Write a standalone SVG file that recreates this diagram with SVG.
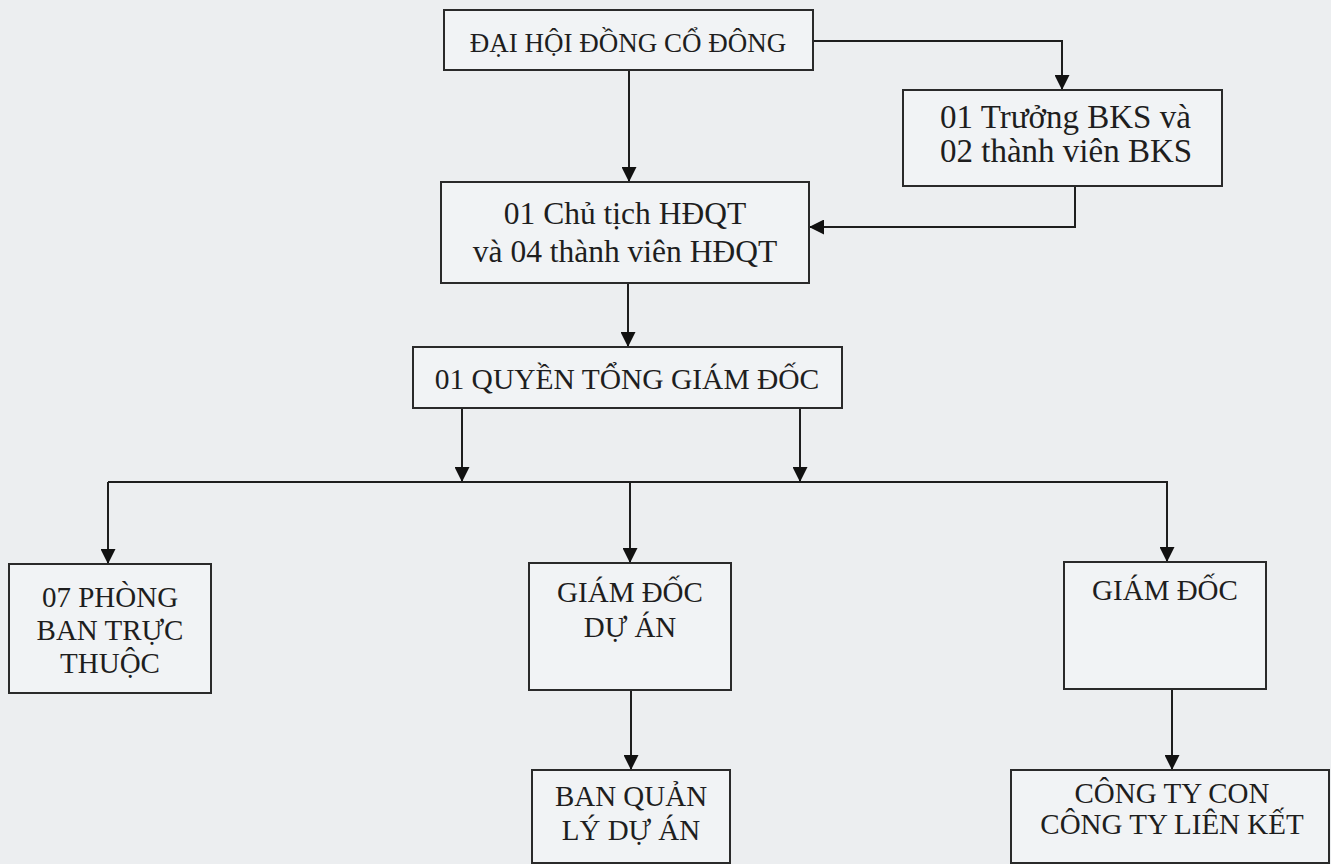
<svg xmlns="http://www.w3.org/2000/svg" width="1331" height="864" viewBox="0 0 1331 864">
<style>
.box{fill:#f1f3f5;stroke:#2a2a2a;stroke-width:2}
.t{font-family:"Liberation Serif","Times New Roman",serif;font-size:29px;fill:#1e1e1e;text-anchor:middle}
.s{text-anchor:start}
.l{fill:none;stroke:#1e1e1e;stroke-width:2}
</style>
<defs>
<marker id="ah" viewBox="0 0 10 10" refX="10" refY="5" markerWidth="15" markerHeight="15" markerUnits="userSpaceOnUse" orient="auto">
<path d="M0,0 L10,5 L0,10 z" fill="#111"/>
</marker>
</defs>
<rect width="1331" height="864" fill="#eceef0"/>
<g id="connectors">
<path class="l" d="M813,41 H1062 V90" marker-end="url(#ah)"/>
<path class="l" d="M629,70 V182" marker-end="url(#ah)"/>
<path class="l" d="M1075,186 V227 H809" marker-end="url(#ah)"/>
<path class="l" d="M628,283 V347" marker-end="url(#ah)"/>
<path class="l" d="M462,408 V482" marker-end="url(#ah)"/>
<path class="l" d="M800,408 V482" marker-end="url(#ah)"/>
<path class="l" d="M108,482 H1168"/>
<path class="l" d="M108,482 V564" marker-end="url(#ah)"/>
<path class="l" d="M630,482 V563" marker-end="url(#ah)"/>
<path class="l" d="M1167,482 V562" marker-end="url(#ah)"/>
<path class="l" d="M631,690 V770" marker-end="url(#ah)"/>
<path class="l" d="M1172,689 V770" marker-end="url(#ah)"/>
</g>
<g id="n-dhdcd">
<rect class="box" x="444" y="10" width="369" height="60"/>
<text class="t" x="628" y="52" style="font-size:27px">ĐẠI HỘI ĐỒNG CỔ ĐÔNG</text>
</g>
<g id="n-bks">
<rect class="box" x="903" y="90" width="319" height="96"/>
<text class="t s" x="940" y="128" style="font-size:33px">01 Trưởng BKS và</text>
<text class="t s" x="940" y="162" style="font-size:33px">02 thành viên BKS</text>
</g>
<g id="n-hdqt">
<rect class="box" x="441" y="182" width="368" height="101"/>
<text class="t" x="625" y="224" style="font-size:31.5px">01 Chủ tịch HĐQT</text>
<text class="t" x="625" y="262" style="font-size:31.5px">và 04 thành viên HĐQT</text>
</g>
<g id="n-tgd">
<rect class="box" x="413" y="347" width="429" height="61"/>
<text class="t" x="627" y="389" style="font-size:29.5px">01 QUYỀN TỔNG GIÁM ĐỐC</text>
</g>
<g id="n-phong">
<rect class="box" x="9" y="564" width="202" height="129"/>
<text class="t" x="110" y="607">07 PHÒNG</text>
<text class="t" x="110" y="640">BAN TRỰC</text>
<text class="t" x="110" y="673">THUỘC</text>
</g>
<g id="n-gdda">
<rect class="box" x="529" y="563" width="202" height="127"/>
<text class="t" x="630" y="602">GIÁM ĐỐC</text>
<text class="t" x="630" y="637">DỰ ÁN</text>
</g>
<g id="n-gd">
<rect class="box" x="1064" y="562" width="202" height="127"/>
<text class="t" x="1165" y="600">GIÁM ĐỐC</text>
</g>
<g id="n-bqlda">
<rect class="box" x="532" y="770" width="198" height="93"/>
<text class="t" x="631" y="806">BAN QUẢN</text>
<text class="t" x="631" y="840">LÝ DỰ ÁN</text>
</g>
<g id="n-cty">
<rect class="box" x="1011" y="770" width="318" height="93"/>
<text class="t" x="1172" y="803">CÔNG TY CON</text>
<text class="t" x="1172" y="834">CÔNG TY LIÊN KẾT</text>
</g>
</svg>
